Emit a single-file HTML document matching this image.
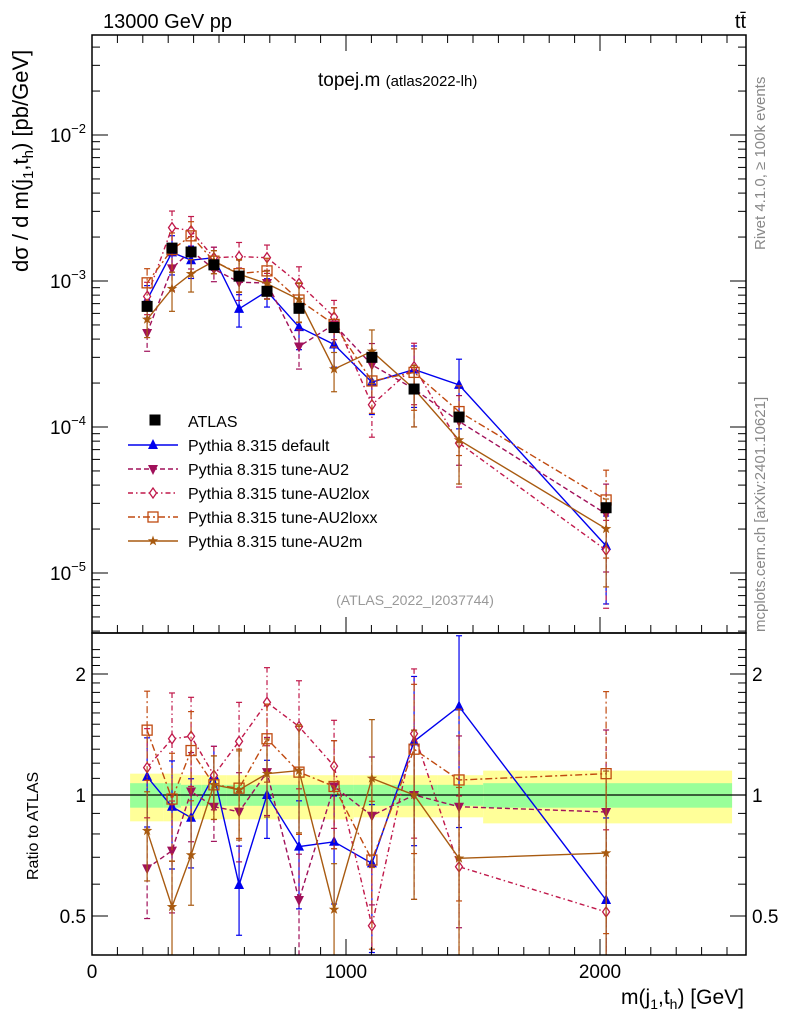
<!DOCTYPE html>
<html><head><meta charset="utf-8"><style>
body{margin:0;background:#fff;}
svg{display:block;font-family:"Liberation Sans",sans-serif;}
</style></head><body>
<svg id="c" width="786" height="1024" xmlns="http://www.w3.org/2000/svg"></svg>
<script>
const xs=[217,315,390,480,579,689,815,953,1102,1268,1445,2024];
const atlas=[6.7e-4,1.68e-3,1.58e-3,1.29e-3,1.08e-3,8.5e-4,6.5e-4,4.8e-4,3.0e-4,1.82e-4,1.17e-4,2.8e-5];
const binEdges=[150,280,350,430,530,630,750,880,1030,1180,1360,1540,2520];
const yellowLo=[0.86,0.86,0.87,0.87,0.87,0.87,0.87,0.87,0.88,0.88,0.88,0.85];
const yellowHi=[1.13,1.13,1.12,1.12,1.12,1.12,1.12,1.12,1.12,1.12,1.12,1.15];
const greenLo=[0.93,0.93,0.94,0.94,0.94,0.94,0.94,0.94,0.94,0.94,0.94,0.93];
const greenHi=[1.07,1.07,1.06,1.06,1.06,1.06,1.06,1.06,1.06,1.06,1.06,1.07];
const rDefault=[1.11,0.935,0.878,1.12,0.597,1.0,0.744,0.765,0.676,1.36,1.66,0.548];
const rAU2=[0.657,0.727,1.02,0.935,0.909,1.14,0.548,1.05,0.888,1.0,0.935,0.907];
const rAU2lox=[1.17,1.38,1.40,1.12,1.36,1.70,1.48,1.18,0.473,1.42,0.663,0.512];
const rAU2loxx=[1.45,0.977,1.29,1.06,1.04,1.38,1.14,1.05,0.689,1.30,1.09,1.13];
const rAU2m=[0.815,0.527,0.709,1.06,1.03,1.13,1.15,0.519,1.10,1.0,0.696,0.717];
const relErr=[0.25,0.3,0.25,0.18,0.25,0.22,0.3,0.3,0.4,0.45,0.5,0.6];
const xTicks=[0,1000,2000];
const yTicks=[-5,-4,-3,-2];
const rTicks=[0.5,1,2];

const S=document.getElementById('c');const NS='http://www.w3.org/2000/svg';
function el(t,a,p){const e=document.createElementNS(NS,t);for(const k in a)e.setAttribute(k,a[k]);(p||S).appendChild(e);return e;}
const X0=92,X1=746,T=35,MB=633,RB=955;
const X=v=>92+v*0.254;
const Y=v=>281-(Math.log10(v)+3)*146;
const R=v=>795-Math.log2(v)*121;
const defs=el('defs',{});
const c1=el('clipPath',{id:'cm'},defs);el('rect',{x:X0,y:T,width:X1-X0,height:MB-T},c1);
const c2=el('clipPath',{id:'cr'},defs);el('rect',{x:X0,y:MB,width:X1-X0,height:RB-MB},c2);
const gM=el('g',{'clip-path':'url(#cm)'});
const gR=el('g',{'clip-path':'url(#cr)'});
for(let i=0;i<binEdges.length-1;i++){
 const b=el('rect',{x:X(binEdges[i]),width:X(binEdges[i+1])-X(binEdges[i]),y:R(yellowHi[i]),height:R(yellowLo[i])-R(yellowHi[i]),fill:'#ffff99'},gR);
 
 const g=el('rect',{x:X(binEdges[i]),width:X(binEdges[i+1])-X(binEdges[i]),y:R(greenHi[i]),height:R(greenLo[i])-R(greenHi[i]),fill:'#99ff99'},gR);
 
}
el('line',{x1:X0,x2:X1,y1:R(1),y2:R(1),stroke:'#000','stroke-width':1.2},gR);
function marker(g,type,x,y,col,s){
 s=s||5;
 if(type==='sq')el('rect',{x:x-5.5,y:y-5.5,width:11,height:11,fill:'#000'},g);
 else if(type==='tu')el('polygon',{points:`${x},${y-s-1} ${x-s},${y+s-1} ${x+s},${y+s-1}`,fill:col},g);
 else if(type==='td')el('polygon',{points:`${x},${y+s+1} ${x-s},${y-s+1} ${x+s},${y-s+1}`,fill:col},g);
 else if(type==='dm')el('polygon',{points:`${x},${y-5} ${x-3.5},${y} ${x},${y+5} ${x+3.5},${y}`,fill:'#fff',stroke:col,'stroke-width':1.3},g);
 else if(type==='os')el('rect',{x:x-5,y:y-5,width:10,height:10,fill:'none',stroke:col,'stroke-width':1.3},g);
 else if(type==='st'){let p=[];for(let k=0;k<10;k++){const r=k%2?2.2:5.5,a=-Math.PI/2+k*Math.PI/5;p.push((x+r*Math.cos(a)).toFixed(1)+','+(y+r*Math.sin(a)).toFixed(1));}el('polygon',{points:p.join(' '),fill:col},g);}
}
const series=[
 {name:'default',r:rDefault,col:'#0000ee',dash:'',m:'tu',label:'Pythia 8.315 default'},
 {name:'au2',r:rAU2,col:'#a0105a',dash:'5,3',m:'td',label:'Pythia 8.315 tune-AU2'},
 {name:'au2lox',r:rAU2lox,col:'#c0184a',dash:'5,3,1.5,3',m:'dm',label:'Pythia 8.315 tune-AU2lox'},
 {name:'au2loxx',r:rAU2loxx,col:'#c04a10',dash:'7,3,2,3',m:'os',label:'Pythia 8.315 tune-AU2loxx'},
 {name:'au2m',r:rAU2m,col:'#a85a10',dash:'',m:'st',label:'Pythia 8.315 tune-AU2m'}
];
series.forEach(sr=>{
 [[gM,(i,f)=>Y(atlas[i]*sr.r[i]*f)],[gR,(i,f)=>R(sr.r[i]*f)]].forEach(([g0,fy],pi)=>{
  const g=el('g',{},g0);
  const pts=xs.map((x,i)=>X(x).toFixed(1)+','+fy(i,1).toFixed(1)).join(' ');
  el('polyline',{points:pts,fill:'none',stroke:sr.col,'stroke-width':1.4,'stroke-dasharray':sr.dash},g);
  xs.forEach((x,i)=>{const e=relErr[i];const y1=fy(i,1+e),y2=fy(i,Math.max(1-e,0.05));
   el('line',{x1:X(x),x2:X(x),y1:y1,y2:y2,stroke:sr.col,'stroke-width':1.2,'stroke-dasharray':sr.dash},g);
   el('line',{x1:X(x)-3,x2:X(x)+3,y1:y1,y2:y1,stroke:sr.col,'stroke-width':1.2},g);
   el('line',{x1:X(x)-3,x2:X(x)+3,y1:y2,y2:y2,stroke:sr.col,'stroke-width':1.2},g);
   marker(g,sr.m,X(x),fy(i,1),sr.col);});
 });
});
const gA=el('g',{},gM);
xs.forEach((x,i)=>marker(gA,'sq',X(x),Y(atlas[i])));
el('rect',{x:X0,y:T,width:X1-X0,height:MB-T,fill:'none',stroke:'#000','stroke-width':1.5});
el('rect',{x:X0,y:MB,width:X1-X0,height:RB-MB,fill:'none',stroke:'#000','stroke-width':1.5});
for(let v=0;v<=2500;v+=100){const L=v%1000===0?16:8;[MB,RB].forEach(b=>{el('line',{x1:X(v),x2:X(v),y1:b,y2:b-L,stroke:'#000'});});el('line',{x1:X(v),x2:X(v),y1:T,y2:T+L,stroke:'#000'});}
xTicks.forEach(v=>{const t=el('text',{x:X(v),y:978,'font-size':19,'text-anchor':'middle'});t.textContent=v;});
for(let d=-6;d<=-1;d++)for(let m=1;m<10;m++){const y=Y(m*Math.pow(10,d));if(y<T||y>MB)continue;const L=m===1?16:8;el('line',{x1:X0,x2:X0+L,y1:y,y2:y,stroke:'#000'});el('line',{x1:X1,x2:X1-L,y1:y,y2:y,stroke:'#000'});}
yTicks.forEach(d=>{const t=el('text',{x:86,y:Y(Math.pow(10,d))+7,'font-size':19,'text-anchor':'end'});t.innerHTML='10<tspan dy="-9" font-size="13">'+(d===-5?'−5':d===-4?'−4':d===-3?'−3':'−2')+'</tspan>';});
for(let v=0.4;v<=2.4;v+=0.1){const y=R(v);if(y<MB||y>RB)continue;const big=[0.5,1,2].some(q=>Math.abs(q-v)<1e-6);const L=big?16:8;el('line',{x1:X0,x2:X0+L,y1:y,y2:y,stroke:'#000'});el('line',{x1:X1,x2:X1-L,y1:y,y2:y,stroke:'#000'});}
rTicks.forEach(v=>{[[86,'end'],[752,'start']].forEach(([x,a])=>{const t=el('text',{x:x,y:R(v)+7,'font-size':19,'text-anchor':a});t.textContent=v;});});
function txt(x,y,s,str,name,extra){const t=el('text',Object.assign({x:x,y:y,'font-size':s},extra||{}));t.innerHTML=str;return t;}
txt(103,28,20,'13000 GeV pp','header-energy');
txt(746,28,20,'t<tspan>t̄</tspan>','header-process',{'text-anchor':'end'});
txt(318,86,19,'topej.m <tspan font-size="15">(atlas2022-lh)</tspan>','plot-title');
txt(415,605,14,'(ATLAS_2022_I2037744)','analysis-id',{'text-anchor':'middle',fill:'#999'});
txt(744,1004,21,'m(j<tspan font-size="14" dy="5">1</tspan><tspan dy="-5">,t</tspan><tspan font-size="14" dy="5">h</tspan><tspan dy="-5">) [GeV]</tspan>','x-axis-title',{'text-anchor':'end'});
txt(0,0,22,'dσ / d m(j<tspan font-size="15" dy="5">1</tspan><tspan dy="-5">,t</tspan><tspan font-size="15" dy="5">h</tspan><tspan dy="-5">) [pb/GeV]</tspan>','y-axis-title',{transform:'translate(28,272) rotate(-90)'});
txt(0,0,16,'Ratio to ATLAS','ratio-axis-title',{transform:'translate(38,880) rotate(-90)'});
txt(0,0,15,'Rivet 4.1.0, ≥ 100k events','rivet-version',{transform:'translate(765,250) rotate(-90)',fill:'#888'});
txt(0,0,15,'mcplots.cern.ch [arXiv:2401.10621]','mcplots-credit',{transform:'translate(765,632) rotate(-90)',fill:'#888'});
const lg=el('g',{});
const le=el('g',{},lg);
marker(le,'sq',155,420);
const lt=el('text',{x:188,y:427,'font-size':16},le);lt.textContent='ATLAS';


series.forEach((sr,k)=>{const y=445+k*24;const g=el('g',{},lg);
 el('line',{x1:128,x2:178,y1:y,y2:y,stroke:sr.col,'stroke-width':1.4,'stroke-dasharray':sr.dash},g);marker(g,sr.m,153,y,sr.col);
 const t=el('text',{x:188,y:y+6,'font-size':16},g);t.textContent=sr.label;});
</script>
</body></html>
